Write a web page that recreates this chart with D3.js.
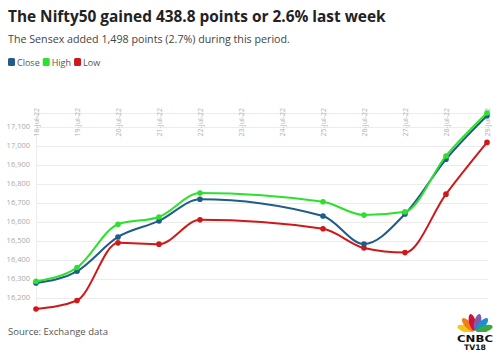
<!DOCTYPE html>
<html>
  <head>
    <meta charset="utf-8">
    <title>Nifty50 last week</title>
    <script src="https://cdn.jsdelivr.net/npm/d3@7"></script>
    <style>
      body { margin: 0; background: #fff; font-family: "Open Sans", "Noto Sans", sans-serif; }
      #chart { display: block; }
      .grid line { stroke: #ececec; stroke-width: 1; }
      .ylab { fill: #aaa; font-size: 7.5px; }
      .xlab { fill: #b0b0b0; font-size: 7px; }
    </style>
  </head>
  <body>
    <svg id="chart" width="498" height="360"></svg>
    <script>
      // data (Nifty50, week of 18-29 July 2022)
      var days = ["2022-07-18", "2022-07-19", "2022-07-20", "2022-07-21", "2022-07-22",
                  "2022-07-25", "2022-07-26", "2022-07-27", "2022-07-28", "2022-07-29"];
      var close = [16278.5, 16340.55, 16520.85, 16605.25, 16719.45, 16631.0, 16483.85, 16641.8, 16929.6, 17158.25];
      var high = [16287.95, 16360.0, 16588.0, 16626.0, 16752.25, 16706.0, 16636.0, 16653.0, 16947.0, 17172.8];
      var low = [16142.1, 16187.0, 16490.0, 16483.0, 16610.9, 16564.0, 16463.0, 16438.75, 16746.0, 17018.15];
      var yTicks = [16200, 16300, 16400, 16500, 16600, 16700, 16800, 16900, 17000, 17100];
      var seriesNames = ["Close", "High", "Low"];
      var colours = ["#1f5c88", "#2ee02e", "#d01818"];

      var parse = d3.timeParse("%Y-%m-%d");
      var dates = days.map(parse);
      var series = [close, high, low];

      var svg = d3.select("#chart");

      // titles
      svg.append("text")
        .attr("x", 8).attr("y", 22)
        .style("font-size", "15.4px").style("font-weight", "bold").style("fill", "#222")
        .text("The Nifty50 gained 438.8 points or 2.6% last week");
      svg.append("text")
        .attr("x", 8).attr("y", 43)
        .style("font-size", "10.7px").style("fill", "#444")
        .text("The Sensex added 1,498 points (2.7%) during this period.");

      // legend
      var lx = 8;
      seriesNames.forEach(function(d, i) {
        svg.append("rect")
          .attr("x", lx).attr("y", 58).attr("width", 7).attr("height", 8)
          .attr("rx", 1.5).attr("fill", colours[i]);
        var t = svg.append("text")
          .attr("x", lx + 9).attr("y", 65.5)
          .style("font-size", "9px").style("fill", "#555")
          .text(d);
        lx += 9 + t.node().getComputedTextLength() + 3;
      });

      // scales
      var x = d3.scaleTime()
        .domain([parse("2022-07-18"), parse("2022-07-29")])
        .range([36, 487]);
      var y = d3.scaleLinear()
        .domain([d3.min(low), d3.max(high)])
        .range([309, 113]);

      // gridlines
      var grid = svg.append("g").attr("class", "grid");
      grid.selectAll("line")
        .data(yTicks.concat([d3.max(high)]))
        .join("line")
          .attr("x1", 36).attr("x2", 488)
          .attr("y1", function(d) { return Math.round(y(d)) + 0.5; })
          .attr("y2", function(d) { return Math.round(y(d)) + 0.5; });
      svg.append("line")
        .attr("x1", 36.5).attr("x2", 36.5).attr("y1", 113).attr("y2", 313)
        .attr("stroke", "#ececec");

      // y labels
      svg.append("g").selectAll("text")
        .data(yTicks)
        .join("text")
          .attr("class", "ylab")
          .attr("x", 30)
          .attr("y", function(d) { return y(d) + 2.5; })
          .attr("text-anchor", "end")
          .text(d3.format(","));

      // x labels, rotated
      var xFormat = d3.timeFormat("%d-%b-%y");
      svg.append("g").selectAll("text")
        .data(d3.timeDay.range(parse("2022-07-18"), parse("2022-07-30")))
        .join("text")
          .attr("class", "xlab")
          .attr("transform", function(d) { return "translate(" + (x(d) + 2.5) + ",108) rotate(-90)"; })
          .attr("text-anchor", "end")
          .text(xFormat);

      // lines
      var line = d3.line()
        .x(function(d, i) { return x(dates[i]); })
        .y(function(d) { return y(d); })
        .curve(d3.curveMonotoneX);

      [2, 0, 1].forEach(function(k) {
        svg.append("path")
          .datum(series[k])
          .attr("d", line)
          .attr("fill", "none")
          .attr("stroke", colours[k])
          .attr("stroke-width", 2);
        svg.append("g").selectAll("circle")
          .data(series[k])
          .join("circle")
            .attr("cx", function(d, i) { return x(dates[i]); })
            .attr("cy", function(d) { return y(d); })
            .attr("r", 2.8)
            .attr("fill", colours[k]);
      });

      // source
      svg.append("text")
        .attr("x", 8).attr("y", 335)
        .style("font-size", "9.5px").style("fill", "#555")
        .text("Source: Exchange data");

      // CNBC-TV18 logo
      var logo = svg.append("g").attr("transform", "translate(475,332)");
      var feathers = ["#f5c518", "#f07f1b", "#d0103a", "#7b5ea7", "#1b8fd2", "#3aa845"];
      feathers.forEach(function(c, i) {
        var a = -72 + i * 28.8;
        logo.append("ellipse")
          .attr("rx", 3.4).attr("ry", 8.5)
          .attr("transform", "rotate(" + a + ") translate(0,-10)")
          .attr("fill", c);
      });
      logo.append("rect")
        .attr("x", -20).attr("y", 0).attr("width", 40).attr("height", 20).attr("fill", "#fff");
      logo.append("text")
        .attr("x", -18).attr("y", 10)
        .attr("textLength", 36).attr("lengthAdjust", "spacingAndGlyphs")
        .style("font-family", "'DejaVu Sans', sans-serif")
        .style("font-weight", "bold").style("font-size", "9.5px").style("fill", "#111")
        .text("CNBC");
      logo.append("text")
        .attr("x", -11).attr("y", 17.5)
        .attr("textLength", 22).attr("lengthAdjust", "spacingAndGlyphs")
        .style("font-family", "'DejaVu Sans', sans-serif")
        .style("font-weight", "bold").style("font-size", "7.5px").style("fill", "#111")
        .text("TV18");
    </script>
  </body>
</html>
